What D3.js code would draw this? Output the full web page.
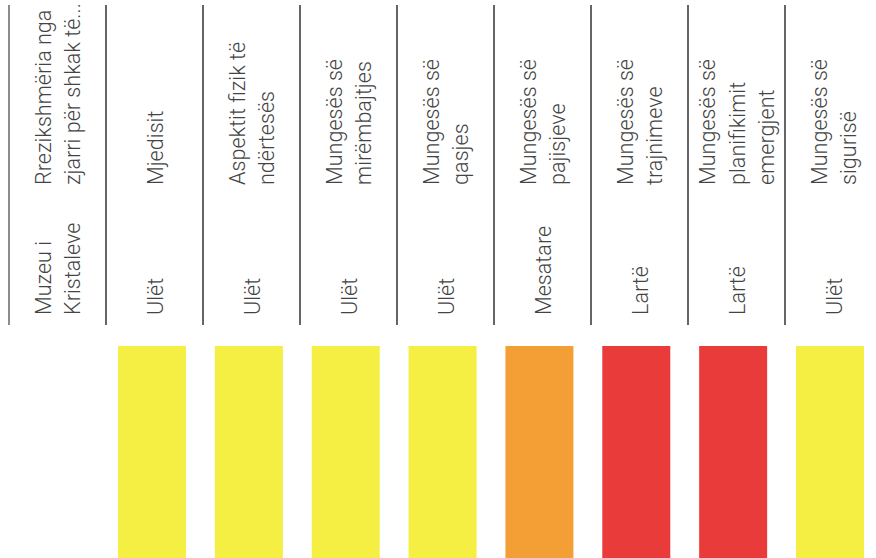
<!DOCTYPE html>
<html>
<head>
<meta charset="utf-8">
<script src="https://cdn.jsdelivr.net/npm/d3@7"></script>
<style>
  body { margin: 0; background: #fff; }
  svg { display: block; font-family: Roboto, "Noto Sans", sans-serif; }
</style>
</head>
<body>
<svg class="target"></svg>
<script>
// column headers (manual line breaks as in the original)
const headers = [
    ["Rrezikshmëria nga", "zjarri për shkak të..."],
    ["Mjedisit"],
    ["Aspektit fizik të", "ndërtesës"],
    ["Mungesës së", "mirëmbajtjes"],
    ["Mungesës së", "qasjes"],
    ["Mungesës së", "pajisjeve"],
    ["Mungesës së", "trajnimeve"],
    ["Mungesës së", "planifikimit", "emergjent"],
    ["Mungesës së", "sigurisë"]
];
const rowLabel = ["Muzeu i", "Kristaleve"];
const levels = ["Ulët", "Ulët", "Ulët", "Ulët", "Mesatare", "Lartë", "Lartë", "Ulët"];
const levelScore = { "Ulët": 1, "Mesatare": 2, "Lartë": 3 };
const levelColors = ["#f5ee43", "#f49f35", "#e93c3a"];

document.addEventListener("DOMContentLoaded", function() {
    drawTable();
});

function drawTable() {
    const width = 876;
    const height = 558;
    const fontSize = 21.6;
    const lineH = 29.5;

    const svg = d3.select(".target")
        .attr("viewBox", [0, 0, width, height])
        .attr("width", width)
        .attr("height", height);

    const col = d3.scaleBand()
        .domain(d3.range(headers.length))
        .range([9, 9 + 97 * headers.length]);

    // row separators (vertical after rotation)
    svg.selectAll("line.sep")
        .data(d3.range(headers.length))
        .enter()
        .append("line")
        .attr("class", "sep")
        .attr("x1", d => col(d))
        .attr("x2", d => col(d))
        .attr("y1", 5)
        .attr("y2", 325)
        .attr("stroke", (d, i) => i == 0 ? "#666" : "#333")
        .attr("stroke-width", 1.5);

    function putText(lines, cx, yStart) {
        const g = svg.append("g")
            .attr("transform", "translate(" + cx + "," + yStart + ") rotate(-90)");
        const first = -(lines.length - 1) * lineH / 2 + fontSize * 0.38;
        g.selectAll("text")
            .data(lines)
            .enter()
            .append("text")
            .attr("x", 0)
            .attr("y", (d, i) => first + i * lineH)
            .attr("font-size", fontSize)
            .attr("font-weight", 300)
            .attr("fill", "#444")
            .text(d => d);
    }

    headers.forEach(function(h, i) {
        putText(h, col(i) + col.bandwidth() / 2, 185);
    });
    putText(rowLabel, col(0) + col.bandwidth() / 2, 315);
    levels.forEach(function(l, i) {
        putText([l], col(i + 1) + col.bandwidth() / 2, 315);
    });

    // colour bars
    const bx = d3.scaleBand()
        .domain(d3.range(levels.length))
        .range([118, 864])
        .paddingInner(0.298);
    const by = d3.scaleLinear().domain([0, 1]).range([600, 346]);
    const color = d3.scaleOrdinal().domain([1, 2, 3]).range(levelColors);

    svg.selectAll("rect.bar")
        .data(levels)
        .enter()
        .append("rect")
        .attr("class", "bar")
        .attr("x", (d, i) => bx(i))
        .attr("width", bx.bandwidth())
        .attr("y", by(1))
        .attr("height", by(0) - by(1))
        .attr("fill", d => color(levelScore[d]));
}
</script>
</body>
</html>
